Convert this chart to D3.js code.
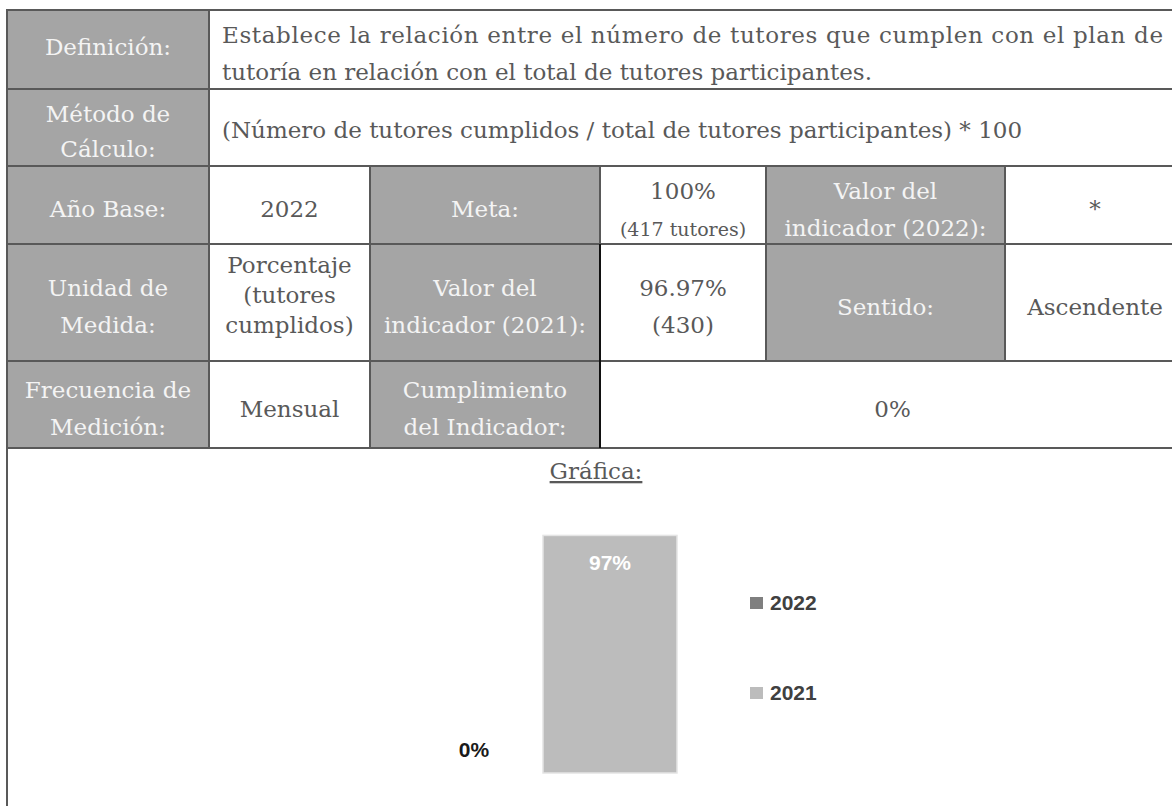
<!DOCTYPE html>
<html>
<head>
<meta charset="utf-8">
<script src="https://cdn.jsdelivr.net/npm/d3@7"></script>
<style>
  body { margin: 0; background: #fff; }
  svg { display: block; }
</style>
</head>
<body>
<svg id="chart" width="1172" height="806"></svg>
<script>
// chart data
var series = ["2022", "2021"];
var values = [0, 96.97];
var seriesColors = ["#7f7f7f", "#bcbcbc"];

// table text
var defLines = [
  "Establece la relación entre el número de tutores que cumplen con el plan de",
  "tutoría en relación con el total de tutores participantes."
];
var metodo = "(Número de tutores cumplidos / total de tutores participantes) * 100";

var svg = d3.select("#chart");

var colX = [7, 209, 370, 600, 766, 1005, 1185];
var rowY = [10, 89, 166, 244, 361, 448];
var headFill = "#a5a5a5";
var textCol = "#595959";
var serif = "'DejaVu Serif', serif";

// cells of the indicator table
var cells = [
  {r: 0, c0: 0, c1: 1, head: true, lines: ["Definición:"], off: 5},
  {r: 0, c0: 1, c1: 6, head: false, lines: defLines, left: true},
  {r: 1, c0: 0, c1: 1, head: true, lines: ["Método de", "Cálculo:"], lh: 35},
  {r: 1, c0: 1, c1: 6, head: false, lines: [metodo], left: true, off: 10},
  {r: 2, c0: 0, c1: 1, head: true, lines: ["Año Base:"]},
  {r: 2, c0: 1, c1: 2, head: false, lines: ["2022"]},
  {r: 2, c0: 2, c1: 3, head: true, lines: ["Meta:"]},
  {r: 2, c0: 3, c1: 4, head: false, lines: ["100%", "(417 tutores)"], small: 1},
  {r: 2, c0: 4, c1: 5, head: true, lines: ["Valor del", "indicador (2022):"]},
  {r: 2, c0: 5, c1: 6, head: false, lines: ["*"]},
  {r: 3, c0: 0, c1: 1, head: true, lines: ["Unidad de", "Medida:"]},
  {r: 3, c0: 1, c1: 2, head: false, lines: ["Porcentaje", "(tutores", "cumplidos)"], lh: 30, off: 0},
  {r: 3, c0: 2, c1: 3, head: true, lines: ["Valor del", "indicador (2021):"]},
  {r: 3, c0: 3, c1: 4, head: false, lines: ["96.97%", "(430)"]},
  {r: 3, c0: 4, c1: 5, head: true, lines: ["Sentido:"]},
  {r: 3, c0: 5, c1: 6, head: false, lines: ["Ascendente"]},
  {r: 4, c0: 0, c1: 1, head: true, lines: ["Frecuencia de", "Medición:"]},
  {r: 4, c0: 1, c1: 2, head: false, lines: ["Mensual"]},
  {r: 4, c0: 2, c1: 3, head: true, lines: ["Cumplimiento", "del Indicador:"]},
  {r: 4, c0: 3, c1: 6, head: false, lines: ["0%"]}
];

var table = svg.append("g");

table.selectAll("rect")
  .data(cells)
  .enter()
  .append("rect")
  .attr("x", function(d){ return colX[d.c0]; })
  .attr("y", function(d){ return rowY[d.r]; })
  .attr("width", function(d){ return colX[d.c1] - colX[d.c0]; })
  .attr("height", function(d){ return rowY[d.r + 1] - rowY[d.r]; })
  .attr("fill", function(d){ return d.head ? headFill : "#fff"; })
  .attr("stroke", "#595959")
  .attr("stroke-width", 2);

// a couple of darker borders seen in the original
table.append("line")
  .attr("x1", 600).attr("x2", 600)
  .attr("y1", rowY[3]).attr("y2", rowY[5])
  .attr("stroke", "#111").attr("stroke-width", 2);

cells.forEach(function(d){
  var cy = (rowY[d.r] + rowY[d.r + 1]) / 2;
  var lh = d.lh || 37;
  var off = d.off === undefined ? 12 : d.off;
  var n = d.lines.length;
  d.lines.forEach(function(line, i){
    var t = table.append("text")
      .attr("y", cy + off + (i - (n - 1) / 2) * lh)
      .attr("font-family", serif)
      .attr("font-size", d.small === i ? 19 : 23)
      .attr("fill", d.head ? "#f4f4f4" : textCol)
      .text(line);
    if (d.left) {
      t.attr("x", 222);
      if (n > 1 && i === 0) {
        t.attr("textLength", 941).attr("lengthAdjust", "spacing");
      }
    } else {
      t.attr("x", (colX[d.c0] + colX[d.c1]) / 2).attr("text-anchor", "middle");
    }
  });
});

// chart area frame
svg.append("line")
  .attr("x1", colX[0]).attr("x2", colX[0])
  .attr("y1", rowY[5]).attr("y2", 806)
  .attr("stroke", "#595959").attr("stroke-width", 2);

svg.append("text")
  .attr("x", 596).attr("y", 479)
  .attr("text-anchor", "middle")
  .attr("font-family", serif)
  .attr("font-size", 23)
  .attr("fill", textCol)
  .attr("text-decoration", "underline")
  .text("Gráfica:");

// bar chart
var x = d3.scaleBand()
  .domain(series)
  .range([406, 678])
  .padding(0);

var y = d3.scaleLinear()
  .domain([0, 100])
  .range([773, 528]);

var pct = d3.format(".0%");
var bars = series.map(function(s, i){ return {s: s, v: values[i], c: seriesColors[i]}; });

var plot = svg.append("g");

plot.selectAll(".bar")
  .data(bars)
  .enter()
  .append("rect")
  .attr("class", "bar")
  .attr("x", function(d){ return x(d.s) + 1; })
  .attr("y", function(d){ return y(d.v); })
  .attr("width", x.bandwidth() - 2)
  .attr("height", function(d){ return y(0) - y(d.v); })
  .attr("fill", function(d){ return d.c; })
  .attr("stroke", function(d){ return d.v > 0 ? "#e4e4e4" : "none"; })
  .attr("stroke-width", 1.5);

// data labels: inside end when bar is tall, outside end otherwise
plot.selectAll(".lbl")
  .data(bars)
  .enter()
  .append("text")
  .attr("class", "lbl")
  .attr("x", function(d){ return x(d.s) + x.bandwidth() / 2; })
  .attr("y", function(d){ return d.v > 10 ? y(d.v) + 35 : y(d.v) - 16; })
  .attr("text-anchor", "middle")
  .attr("font-family", "'Liberation Sans', Arial, sans-serif")
  .attr("font-weight", "bold")
  .attr("font-size", 21)
  .attr("fill", function(d){ return d.v > 10 ? "#fff" : "#1a1a1a"; })
  .text(function(d){ return pct(d.v / 100); });

// legend
var legend = svg.append("g").attr("transform", "translate(750,597)");
var leg = legend.selectAll("g")
  .data(bars)
  .enter()
  .append("g")
  .attr("transform", function(d, i){ return "translate(0," + (i * 90) + ")"; });

leg.append("rect")
  .attr("width", 13).attr("height", 12)
  .attr("fill", function(d){ return d.c; });

leg.append("text")
  .attr("x", 20).attr("y", 13)
  .attr("font-family", "'Liberation Sans', Arial, sans-serif")
  .attr("font-weight", "bold")
  .attr("font-size", 21)
  .attr("fill", "#404040")
  .text(function(d){ return d.s; });
</script>
</body>
</html>
